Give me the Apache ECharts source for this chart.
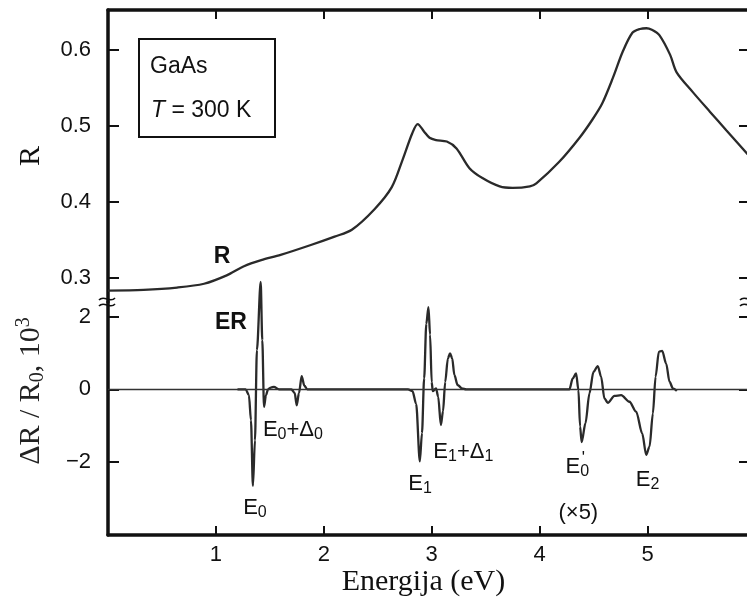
<!DOCTYPE html>
<html>
<head>
<meta charset="utf-8">
<script src="https://cdn.jsdelivr.net/npm/echarts@6/dist/echarts.min.js"></script>
<style>
  html, body { margin: 0; padding: 0; background: #fff; }
  #chart { width: 747px; height: 598px; }
</style>
</head>
<body>
<div id="chart"></div>
<script>
// reflectance R of GaAs at 300 K (upper panel)
const rEnergy = [0, 0.33, 0.64, 0.89, 1.10, 1.26, 1.42, 1.60, 1.88, 2.10, 2.26, 2.47, 2.63, 2.73, 2.82, 2.87,
  2.93, 2.98, 3.04, 3.14, 3.23, 3.35, 3.47, 3.63, 3.75, 3.91, 3.97, 4.18, 4.37, 4.49, 4.58, 4.68, 4.77,
  4.86, 4.93, 4.99, 5.04, 5.11, 5.21, 5.27, 5.42, 5.58, 5.73, 5.95];
const rValue = [0.283, 0.284, 0.287, 0.292, 0.303, 0.315, 0.323, 0.330, 0.343, 0.354, 0.363, 0.390, 0.419, 0.455, 0.490, 0.502,
  0.492, 0.484, 0.481, 0.479, 0.470, 0.444, 0.431, 0.420, 0.418, 0.420, 0.424, 0.452, 0.484, 0.508, 0.529, 0.563, 0.597,
  0.622, 0.627, 0.628, 0.626, 0.619, 0.593, 0.570, 0.544, 0.518, 0.494, 0.459];

// electroreflectance dR/R0 x 10^3 (lower panel)
const erEnergy = [1.20, 1.276, 1.306, 1.325, 1.343, 1.362, 1.38, 1.415, 1.43, 1.446, 1.464, 1.483, 1.51, 1.538, 1.585,
  1.70, 1.73, 1.749, 1.77, 1.795, 1.82, 1.847,
  2.78, 2.822, 2.856, 2.89, 2.91, 2.93, 2.95, 2.97, 2.985, 3.0, 3.01, 3.04, 3.06, 3.085, 3.105, 3.125, 3.15, 3.17,
  3.19, 3.21, 3.24, 3.28, 3.32,
  4.276, 4.307, 4.338, 4.36, 4.375, 4.39, 4.425, 4.462, 4.499, 4.539, 4.57, 4.601, 4.632, 4.694, 4.756, 4.833,
  4.895, 4.951, 4.988, 5.019, 5.05, 5.075, 5.105, 5.136, 5.173, 5.204, 5.235, 5.272];
const erValue = [0, 0, -0.16, -0.85, -2.65, -1.4, 1.08, 2.95, 1.35, -0.48, -0.16, 0, 0.05, 0.07, 0,
  0, -0.1, -0.44, -0.1, 0.36, 0.1, 0,
  0, -0.05, -0.4, -1.98, -1.2, 0.3, 1.8, 2.26, 1.5, 0.2, -0.05, 0.03, -0.2, -0.98, -0.6, 0.2, 0.85, 0.99,
  0.85, 0.4, 0.12, 0.03, 0,
  0, 0.30, 0.44, -0.02, -1.02, -1.45, -0.93, -0.11, 0.48, 0.64, 0.35, -0.25, -0.37, -0.18, -0.16, -0.34,
  -0.61, -1.21, -1.8, -1.57, -0.66, 0.35, 1.03, 1.06, 0.71, 0.21, 0.03, -0.04];

const xTicks = [1, 2, 3, 4, 5];
const rTicks = [0.3, 0.4, 0.5, 0.6];
const erTicks = [-2, 0, 2];

// transition labels in the lower panel (energy, dR/R0 position)
const peakText = ['{b|ER}', 'E{s|0}', 'E{s|0}+Δ{s|0}', 'E{s|1}', 'E{s|1}+Δ{s|1}', 'E{s|0}', '{pr|\'}', 'E{s|2}', '(×5)'];
const peakX = [1.139, 1.362, 1.714, 2.893, 3.293, 4.35, 4.406, 5.0, 4.359];
const peakY = [1.82, -3.25, -1.11, -2.59, -1.72, -2.13, -1.88, -2.48, -3.39];

const ink = '#111';
const curve = '#2a2a2a';
const sans = '"Liberation Sans", Arial, sans-serif';
const serif = '"Liberation Serif", "Times New Roman", serif';

function zip(xs, ys) {
  return xs.map((x, i) => [x, ys[i]]);
}

const chart = echarts.init(document.getElementById('chart'));

function xAxisFor(gridIndex, position, showLabel) {
  return {
    type: 'value', gridIndex: gridIndex, position: position, min: 0, max: 5.95,
    axisLine: { show: true, onZero: false, lineStyle: { color: ink, width: 3.5 } },
    axisTick: { show: true, inside: true, length: 9, customValues: xTicks, lineStyle: { color: ink, width: 2 } },
    axisLabel: {
      show: showLabel, customValues: xTicks, margin: 9,
      color: ink, fontFamily: sans, fontSize: 22
    },
    splitLine: { show: false }
  };
}

function yAxisFor(gridIndex, position, min, max, ticks, showLabel) {
  return {
    type: 'value', gridIndex: gridIndex, position: position, min: min, max: max,
    axisLine: { show: true, onZero: false, lineStyle: { color: ink, width: 3.5 } },
    axisTick: { show: true, inside: true, length: 11, customValues: ticks, lineStyle: { color: ink, width: 2 } },
    axisLabel: {
      show: showLabel, customValues: ticks, margin: 17,
      color: ink, fontFamily: sans, fontSize: 22,
      formatter: function (v) {
        if (gridIndex === 0) return v.toFixed(1);
        return v < 0 ? '\u2212' + Math.abs(v) : String(v);
      }
    },
    splitLine: { show: false }
  };
}

const yTop = yAxisFor(0, 'left', 0.268, 0.652, rTicks, true);
yTop.name = 'R';
yTop.nameLocation = 'middle';
yTop.nameRotate = 90;
yTop.nameGap = 62;
yTop.nameTextStyle = { fontFamily: serif, fontSize: 30, color: ink };

const yBottom = yAxisFor(1, 'left', -4, 2.4, erTicks, true);
yBottom.name = 'ΔR / R{s|0}, 10{p|3}';
yBottom.nameLocation = 'middle';
yBottom.nameRotate = 90;
yBottom.nameGap = 60;
yBottom.nameTextStyle = {
  fontFamily: serif, fontSize: 30, color: '#222', lineHeight: 34,
  padding: [0, 0, 0, 55],
  rich: {
    s: { fontFamily: serif, fontSize: 20, lineHeight: 18, verticalAlign: 'bottom', color: '#222' },
    p: { fontFamily: serif, fontSize: 20, lineHeight: 20, verticalAlign: 'top', color: '#222' }
  }
};

const xBottom = xAxisFor(1, 'bottom', true);
xBottom.name = 'Energija (eV)';
xBottom.nameLocation = 'middle';
xBottom.nameGap = 29;
xBottom.nameTextStyle = { fontFamily: serif, fontSize: 30, color: ink, padding: [0, 11, 0, 0] };

function tilde(x, y) {
  return {
    type: 'bezierCurve',
    shape: { x1: x - 8, y1: y + 1, cpx1: x - 3, cpy1: y - 5, cpx2: x + 3, cpy2: y + 5, x2: x + 8, y2: y - 1 },
    style: { stroke: ink, lineWidth: 1.6, fill: null }
  };
}

const plainLabel = { textBorderWidth: 0, textShadowBlur: 0, color: ink, opacity: 1 };

const option = {
  animation: false,
  backgroundColor: '#fff',
  grid: [
    { left: 108, width: 642, top: 10, height: 292, outerBoundsMode: 'none' },
    { left: 108, width: 642, top: 302, height: 233, outerBoundsMode: 'none' }
  ],
  xAxis: [xAxisFor(0, 'top', false), xBottom],
  yAxis: [
    yTop,
    yBottom,
    yAxisFor(0, 'right', 0.268, 0.652, rTicks, false),
    yAxisFor(1, 'right', -4, 2.4, erTicks, false)
  ],
  graphic: {
    elements: [
      { type: 'rect', shape: { x: 139, y: 39, width: 136, height: 98 }, style: { fill: '#fff', stroke: ink, lineWidth: 2 } },
      {
        type: 'text', x: 150, y: 67,
        style: { text: 'GaAs', fontFamily: sans, fontSize: 23, fill: ink, verticalAlign: 'middle' }
      },
      {
        type: 'text', x: 151, y: 111,
        style: {
          text: '{i|T} = 300 K', fontFamily: sans, fontSize: 23, fill: ink, verticalAlign: 'middle',
          rich: { i: { fontFamily: sans, fontSize: 23, fontStyle: 'italic', fill: ink } }
        }
      },
      tilde(107, 299), tilde(107, 305),
      tilde(748, 299), tilde(748, 305)
    ]
  },
  series: [
    {
      name: 'R', type: 'line', xAxisIndex: 0, yAxisIndex: 0,
      data: zip(rEnergy, rValue), showSymbol: false, symbol: 'none', smooth: 0.3, silent: true,
      lineStyle: { color: curve, width: 2.3 }
    },
    {
      type: 'scatter', xAxisIndex: 0, yAxisIndex: 0, symbolSize: 0, silent: true,
      itemStyle: { color: 'rgba(0,0,0,0)' },
      data: [[1.058, 0.327]],
      label: Object.assign({
        show: true, position: 'inside', formatter: 'R',
        fontFamily: sans, fontSize: 23, fontWeight: 'bold'
      }, plainLabel)
    },
    {
      name: 'ER', type: 'line', xAxisIndex: 1, yAxisIndex: 1, clip: false,
      data: zip(erEnergy, erValue), showSymbol: false, symbol: 'none', smooth: 0.3, smoothMonotone: 'x', silent: true,
      lineStyle: { color: curve, width: 2.3 },
      markLine: {
        silent: true, symbol: ['none', 'none'], label: { show: false },
        lineStyle: { color: '#333', width: 1.3, type: 'solid' },
        data: [{ yAxis: 0 }]
      }
    },
    {
      type: 'scatter', xAxisIndex: 1, yAxisIndex: 1, symbolSize: 0, silent: true, clip: false,
      itemStyle: { color: 'rgba(0,0,0,0)' },
      data: zip(peakX, peakY),
      label: Object.assign({
        show: true, position: 'inside',
        formatter: function (p) { return peakText[p.dataIndex]; },
        fontFamily: sans, fontSize: 22, lineHeight: 26,
        rich: {
          s: Object.assign({ fontFamily: sans, fontSize: 16, lineHeight: 13, verticalAlign: 'bottom' }, plainLabel),
          pr: Object.assign({ fontFamily: sans, fontSize: 17 }, plainLabel),
          b: Object.assign({ fontFamily: sans, fontSize: 23, fontWeight: 'bold' }, plainLabel)
        }
      }, plainLabel),
      labelLayout: { hideOverlap: false }
    }
  ]
};

chart.setOption(option);
</script>
</body>
</html>
